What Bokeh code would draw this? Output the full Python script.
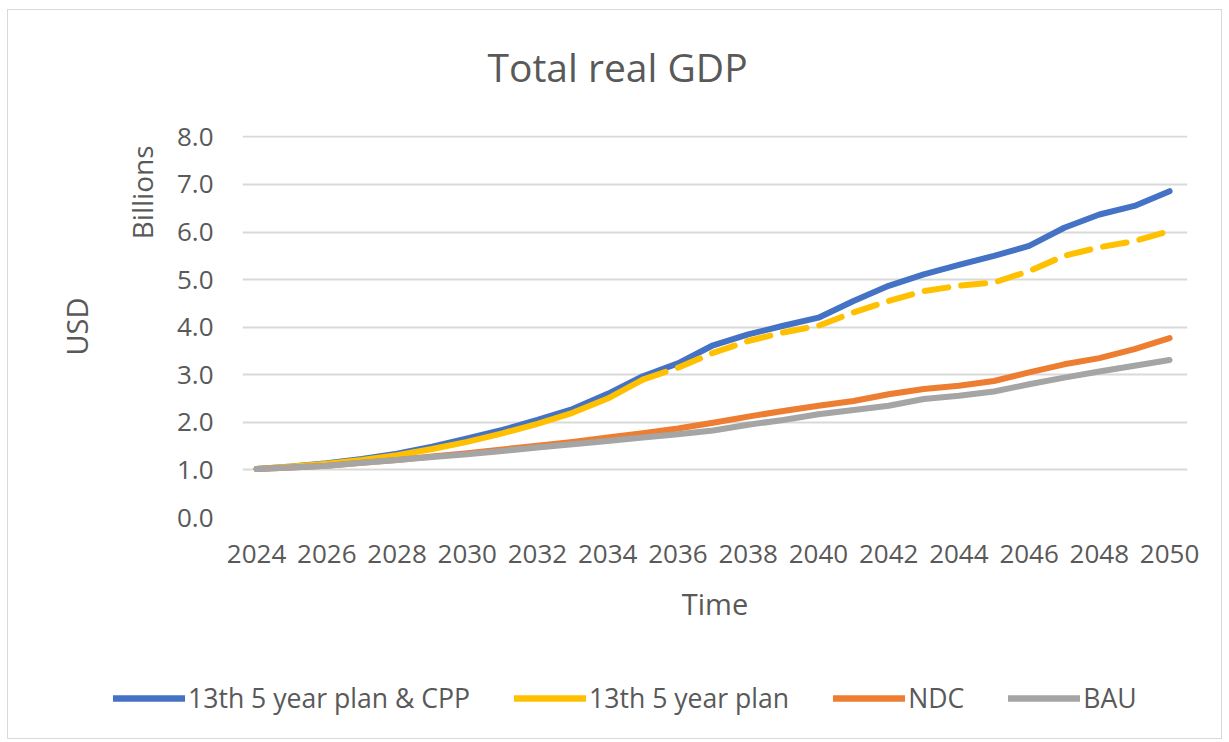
from bokeh.plotting import figure
from bokeh.layouts import column
from bokeh.models import (Range1d, FixedTicker, NumeralTickFormatter, Legend, LegendItem, Title)
from bokeh.embed import file_html
from bokeh.resources import INLINE

# ---- data ----
years = list(range(2024, 2051))
plan_cpp = [1.02, 1.07, 1.14, 1.23, 1.34, 1.49, 1.66, 1.84, 2.05, 2.28, 2.60, 2.97, 3.24, 3.62,
            3.85, 4.03, 4.20, 4.55, 4.87, 5.11, 5.31, 5.50, 5.71, 6.09, 6.37, 6.55, 6.86]
plan_13 = [1.02, 1.07, 1.13, 1.21, 1.31, 1.44, 1.59, 1.77, 1.97, 2.20, 2.50, 2.90, 3.15, 3.46,
           3.71, 3.89, 4.03, 4.31, 4.55, 4.76, 4.87, 4.94, 5.18, 5.50, 5.68, 5.81, 6.02]
ndc = [1.02, 1.05, 1.09, 1.15, 1.21, 1.28, 1.35, 1.43, 1.51, 1.59, 1.68, 1.77, 1.87, 1.99,
       2.12, 2.24, 2.35, 2.45, 2.59, 2.70, 2.77, 2.87, 3.05, 3.22, 3.35, 3.54, 3.77]
bau = [1.02, 1.05, 1.09, 1.15, 1.21, 1.27, 1.33, 1.40, 1.47, 1.54, 1.61, 1.68, 1.75, 1.83,
       1.95, 2.05, 2.17, 2.26, 2.35, 2.49, 2.56, 2.65, 2.80, 2.94, 3.07, 3.19, 3.31]
dash_start_year = 2035
x_ticks = list(range(2024, 2051, 2))
y_ticks = [0, 1, 2, 3, 4, 5, 6, 7, 8]
series_names = ["13th 5 year plan & CPP", "13th 5 year plan", "NDC", "BAU"]
series_values = [plan_cpp, plan_13, ndc, bau]

# ---- styling ----
FONT = "Open Sans"
TXT = "#595959"
colors = ["#4472C4", "#FFC000", "#ED7D31", "#A5A5A5"]
LW = 6

OX, OY = 8, 10            # page offset of the content (inside the border)
W, H = 1213, 650          # main chart
H2 = 78                   # legend strip
FL, FR, FT, FB = 242 - OX, 1187 - OX, 135 - OY, 517 - OY

p = figure(width=W, height=H, output_backend="svg", toolbar_location=None,
           x_range=Range1d(2023.6, 2050.51), y_range=Range1d(0, 8.03),
           min_border_left=FL, min_border_right=W - FR,
           min_border_top=FT, min_border_bottom=H - FB)
p.frame_align = False
p.outline_line_color = None
p.background_fill_color = "white"
p.border_fill_color = "white"

p.xgrid.grid_line_color = None
p.ygrid.grid_line_color = "#D9D9D9"
p.ygrid.grid_line_width = 2

# axes
p.xaxis.ticker = FixedTicker(ticks=x_ticks)
p.yaxis.ticker = FixedTicker(ticks=y_ticks)
p.yaxis.formatter = NumeralTickFormatter(format="0.0")
for ax in (p.xaxis[0], p.yaxis[0]):
    ax.axis_line_color = None
    ax.major_tick_line_color = None
    ax.minor_tick_line_color = None
    ax.major_tick_out = 0
    ax.major_tick_in = 0
    ax.major_label_text_font = FONT
    ax.major_label_text_font_size = "26px"
    ax.major_label_text_color = TXT
    ax.axis_label_text_font = FONT
    ax.axis_label_text_font_size = "29px"
    ax.axis_label_text_font_style = "normal"
    ax.axis_label_text_color = TXT

p.xaxis.major_label_standoff = 27
p.xaxis.axis_label = "Time"
p.xaxis.axis_label_standoff = 18
p.yaxis.major_label_standoff = 29

# series (drawing order: blue, yellow, orange, gray)
p.line(years, plan_cpp, line_color=colors[0], line_width=LW,
       line_join="round", line_cap="round")
k = years.index(dash_start_year)
p.line(years[:k + 1], plan_13[:k + 1], line_color=colors[1], line_width=LW,
       line_join="round", line_cap="round")
p.line(years[k:], plan_13[k:], line_color=colors[1], line_width=LW,
       line_join="round", line_cap="round", line_dash="24 13")
p.line(years, ndc, line_color=colors[2], line_width=LW,
       line_join="round", line_cap="round")
p.line(years, bau, line_color=colors[3], line_width=LW,
       line_join="round", line_cap="round")

# chart title (with a spacer between it and the plot area)
p.add_layout(Title(text=" ", text_font_size="10px", standoff=30), "above")
p.title.text = "Total real GDP"
p.title.text_font = FONT
p.title.text_font_size = "39px"
p.title.text_font_style = "normal"
p.title.text_color = TXT
p.title.align = "left"
p.title.offset = 487 - 242
p.title.standoff = 0

# display-units label and axis title on the left
p.add_layout(Title(text="Billions", align="right", offset=10, standoff=26,
                   text_font=FONT, text_font_size="28px", text_font_style="normal",
                   text_color=TXT), "left")
p.add_layout(Title(text="USD", align="center", standoff=23,
                   text_font=FONT, text_font_size="29px", text_font_style="normal",
                   text_color=TXT), "left")

# legend strip below the chart (its lines hold only each series' first point,
# which lies outside this strip's ranges, so only the legend keys show)
p2 = figure(width=W, height=H2, output_backend="svg", toolbar_location=None,
            x_range=Range1d(0, 1), y_range=Range1d(0, 1),
            x_axis_type=None, y_axis_type=None,
            min_border_left=0, min_border_right=0, min_border_top=0, min_border_bottom=0)
p2.frame_align = False
p2.outline_line_color = None
p2.xgrid.grid_line_color = None
p2.ygrid.grid_line_color = None
lr = [p2.line([years[0]], [vals[0]], line_color=c, line_width=6.5, line_cap="round")
      for c, vals in zip(colors, series_values)]
legend = Legend(items=[LegendItem(label=n, renderers=[r]) for n, r in zip(series_names, lr)],
                orientation="horizontal", location=(113 - OX, H2 - (716 - OY - H)),
                glyph_width=72, glyph_height=36, label_height=36,
                label_standoff=3, spacing=44, padding=0, margin=0,
                border_line_color=None, background_fill_alpha=0,
                label_text_font=FONT, label_text_font_size="26.6px",
                label_text_color=TXT)
p2.add_layout(legend, "center")

layout = column(p, p2, spacing=0,
                styles={"border": "1px solid #D9D9D9", "margin-left": "7px", "margin-top": "9px"})

open("out.html", "w").write(file_html(layout, INLINE))
